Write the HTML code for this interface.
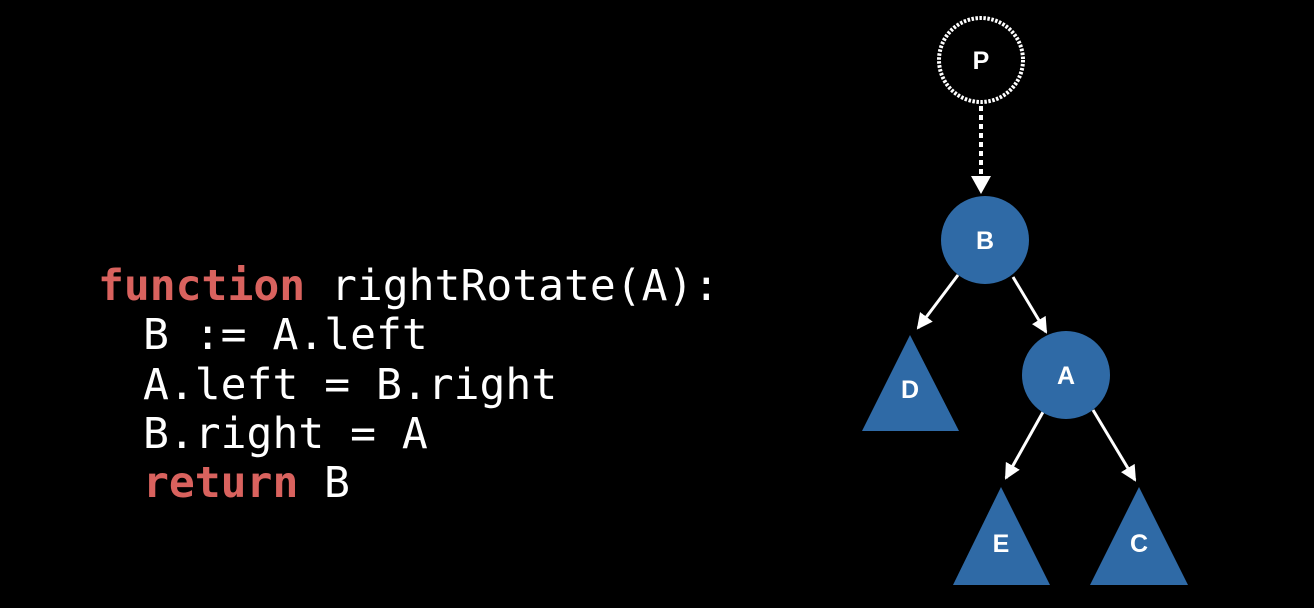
<!DOCTYPE html>
<html><head><meta charset="utf-8"><style>
html,body{margin:0;padding:0;background:#000;}
svg{display:block}
</style></head><body>
<svg width="1314" height="608" viewBox="0 0 1314 608" xmlns="http://www.w3.org/2000/svg">
<rect width="1314" height="608" fill="#000"/>
<defs>
<marker id="ah2" markerWidth="16" markerHeight="16" refX="14" refY="8" orient="auto" markerUnits="userSpaceOnUse">
<path d="M0,0 L16,8 L0,16 z" fill="#fff"/>
</marker>
</defs>
<g font-family="DejaVu Sans Mono, Liberation Mono, monospace" font-size="43" fill="#fff">
<text x="98" y="300"><tspan fill="#d9625e" font-weight="bold">function</tspan><tspan x="331">rightRotate(A):</tspan></text>
<text x="143" y="349">B := A.left</text>
<text x="143" y="399">A.left = B.right</text>
<text x="143" y="448">B.right = A</text>
<text x="143" y="497"><tspan fill="#d9625e" font-weight="bold">return</tspan><tspan x="324">B</tspan></text>
</g>
<circle cx="981" cy="60" r="42" fill="none" stroke="#fff" stroke-width="4" stroke-dasharray="2.5 1.5"/>
<line x1="981" y1="106" x2="981" y2="178" stroke="#fff" stroke-width="4" stroke-dasharray="5 4"/>
<path d="M971,176 L991,176 L981,194 z" fill="#fff"/>
<line x1="958" y1="275" x2="918" y2="328" stroke="#fff" stroke-width="3" marker-end="url(#ah2)"/>
<line x1="1013" y1="277" x2="1046" y2="332" stroke="#fff" stroke-width="3" marker-end="url(#ah2)"/>
<line x1="1043" y1="412" x2="1006" y2="478" stroke="#fff" stroke-width="3" marker-end="url(#ah2)"/>
<line x1="1093" y1="410" x2="1135" y2="480" stroke="#fff" stroke-width="3" marker-end="url(#ah2)"/>
<circle cx="985" cy="240" r="44" fill="#2f6aa6"/>
<circle cx="1066" cy="375" r="44" fill="#2f6aa6"/>
<path d="M910,335 L959,431 L862,431 z" fill="#2f6aa6"/>
<path d="M1001,487 L1050,585 L953,585 z" fill="#2f6aa6"/>
<path d="M1139,487 L1188,585 L1090,585 z" fill="#2f6aa6"/>
<g font-family="Liberation Sans, Arial, sans-serif" font-weight="bold" font-size="25" fill="#fff" text-anchor="middle">
<text x="981" y="69">P</text>
<text x="985" y="249">B</text>
<text x="1066" y="384">A</text>
<text x="910" y="398">D</text>
<text x="1001" y="552">E</text>
<text x="1139" y="552">C</text>
</g>
</svg>
</body></html>
